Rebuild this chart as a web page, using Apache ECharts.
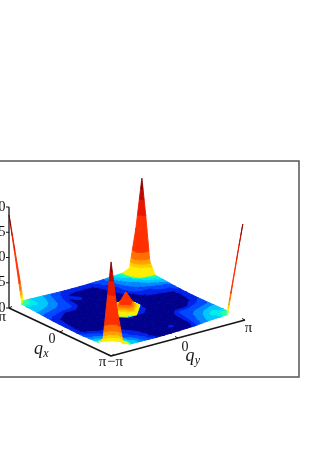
<!DOCTYPE html>
<html><head><meta charset="utf-8">
<style>html,body{margin:0;padding:0;background:#fff}#c{width:334px;height:472px;filter:blur(0.45px)}</style>
<script src="https://cdn.jsdelivr.net/npm/echarts@6/dist/echarts.min.js"></script>
</head><body><div id="c"></div>
<script>
// surface heights: rows run along qx (-pi..pi), columns along qy (-pi..pi)
const heights = [
[18,.38,.3,.28,.18,.12,.08,.07,.07,.08,.11,.15,.28,.35,1.0,8.4,18],
[.38,.36,.3,.28,.16,.1,.06,.055,.055,.055,.1,.13,.25,.35,1.2,10,11],
[.3,.3,.3,.25,.14,.07,.03,.025,.025,.025,.08,.11,.22,.3,.6,1.2,2.5],
[.28,.28,.25,.22,.12,.04,.065,.025,.02,.02,.06,.1,.18,.25,.32,.35,.35],
[.18,.16,.14,.12,.1,.03,.02,.02,.02,.02,.04,.08,.14,.18,.22,.25,.28],
[.12,.1,.07,.04,.03,.02,.02,.02,.02,.02,.02,.03,.08,.1,.13,.15,.18],
[.08,.055,.03,.02,.02,.02,.015,.015,.015,.015,.015,.02,.05,.07,.09,.1,.13],
[.07,.05,.025,.02,.015,.015,.015,.03,1.0,.9,.015,.02,.02,.025,.035,.055,.08],
[.07,.045,.025,.02,.015,.015,.015,1.0,3.6,1.0,.015,.02,.02,.02,.03,.05,.08],
[.07,.045,.025,.02,.015,.015,.015,.35,1.0,.03,.015,.02,.02,.02,.03,.055,.08],
[.07,.04,.02,.015,.015,.015,.015,.015,.015,.015,.015,.015,.015,.02,.035,.06,.1],
[.12,.1,.07,.05,.02,.015,.015,.02,.02,.015,.015,.015,.025,.03,.08,.11,.14],
[.2,.17,.14,.1,.06,.025,.02,.015,.015,.015,.015,.02,.1,.12,.14,.16,.18],
[.33,.3,.25,.18,.1,.06,.025,.02,.015,.015,.02,.035,.12,.22,.25,.28,.28],
[1.5,1.0,.5,.27,.14,.07,.04,.02,.02,.065,.025,.035,.14,.25,.32,.3,.3],
[10,9,1.0,.32,.17,.1,.04,.025,.02,.02,.025,.05,.16,.28,.3,.36,.38],
[18,8,.8,.3,.2,.13,.05,.035,.025,.025,.035,.055,.18,.28,.3,.38,18]
];
// mesh lines are packed tighter towards the zone corners
const meshPos = [0,.7,1.5,2.5,4,5,6,7,8,9,10,11,12,13.5,14.5,15.3,16];
const bandLevels = [0,.05,.1,.17,.24,.3,.34,.38,.44,1.6,2.2,3,4.4,11,14,16,100];
const bandColors = ['#00008c','#0020e8','#0048ff','#0088ff','#00c8ff','#00f0e8','#30ffa0','#a0ff30','#ffee00','#ffcc00','#ffa000','#ff7000','#ff3000','#e81800','#c00800','#8a0000'];
// the central peak is coloured on its own scale: same bands reached at a lower height
const bumpRows = [6,7,8,9], bumpCols = [6,7,8,9], bumpColourGain = 3;
const zTicks = [0,5,10,15,20];
const zTickLabels = ['0','5','10','15','20'];
const qTicks = [-1,0,1];
const qxTickLabels = ['\u2212\u03c0','0','\u03c0'];
const qyTickLabels = ['\u2212\u03c0','0','\u03c0'];
const qxTitle = ['q','x'];
const qyTitle = ['q','y'];

// view set-up: screen positions of the floor and of the z=20 plane
const floor = {L:[18,304],F:[112,351],R:[232,315],B:[141,270]};
const top20 = {L:[8,205],F:[111,252],R:[244,214],B:[142,168]};
const N = heights.length-1, Z_MAX = 20;
function bil(c,u,v,k){return (1-u)*(1-v)*c.L[k]+u*(1-v)*c.F[k]+u*v*c.R[k]+(1-u)*v*c.B[k];}
function project(u,v,z){
  const t=z/Z_MAX;
  return [bil(floor,u,v,0)*(1-t)+bil(top20,u,v,0)*t, bil(floor,u,v,1)*(1-t)+bil(top20,u,v,1)*t];
}
function clip(poly,lvl,keepAbove){
  const out=[];
  for(let a=0;a<poly.length;a++){
    const p=poly[a],q=poly[(a+1)%poly.length];
    const pin=keepAbove?p[2]>=lvl:p[2]<=lvl, qin=keepAbove?q[2]>=lvl:q[2]<=lvl;
    if(pin)out.push(p);
    if(pin!==qin){const t=(lvl-p[2])/(q[2]-p[2]);out.push([p[0]+t*(q[0]-p[0]),p[1]+t*(q[1]-p[1]),lvl]);}
  }
  return out;
}
const cells=[];
for(let i=0;i<N;i++)for(let j=0;j<N;j++)cells.push([i,j]);
cells.sort((a,b)=>(a[0]-a[1])-(b[0]-b[1]));

function renderCell(params,api){
  const i=api.value(0),j=api.value(1);
  const v=(a,b)=>[meshPos[a]/N,meshPos[b]/N,heights[a][b]];
  const a=v(i,j),b=v(i+1,j),c=v(i+1,j+1),d=v(i,j+1);
  const tris=Math.abs(a[2]-c[2])>Math.abs(b[2]-d[2])?[[b,d,a],[b,c,d]]:[[a,b,c],[a,c,d]];
  const gain=(bumpRows.includes(i)&&bumpCols.includes(j))?bumpColourGain:1;
  const children=[];
  tris.forEach(t=>{
    for(let k=0;k<bandColors.length;k++){
      let poly=clip(t,bandLevels[k]/gain,true);
      if(poly.length>2)poly=clip(poly,bandLevels[k+1]/gain,false);
      if(poly.length<3)continue;
      children.push({type:'polygon',shape:{points:poly.map(p=>api.coord(project(p[0],p[1],p[2])))},
        style:{fill:bandColors[k],stroke:bandColors[k],lineWidth:.9}});
    }
  });
  return {type:'group',children};
}

const INK='#151515', SERIF='"Liberation Serif","DejaVu Serif",serif';
function line(api,p,q,w){const A=api.coord(p),B=api.coord(q);
  return {type:'line',shape:{x1:A[0],y1:A[1],x2:B[0],y2:B[1]},style:{stroke:INK,lineWidth:w||1.5}};}
function text(api,s,p,size,style,align){const A=api.coord(p);
  return {type:'text',style:{text:s,x:A[0],y:A[1],fill:INK,align:align||'center',verticalAlign:'middle',
    font:(style||'')+' '+size+'px '+SERIF}};}
function renderAxes(params,api){
  const ch=[];
  const A=api.coord([-5,161]),B=api.coord([299,377]);
  ch.push({type:'rect',shape:{x:A[0],y:A[1],width:B[0]-A[0],height:B[1]-A[1]},style:{fill:'none',stroke:'#555',lineWidth:1.5}});
  const zBase=[9,308], zTop=[9,207], xEnd=[111,356], yEnd=[245,320];
  const lerp=(p,q,t)=>[p[0]+(q[0]-p[0])*t,p[1]+(q[1]-p[1])*t];
  ch.push(line(api,zBase,zTop,1.3),line(api,zBase,xEnd),line(api,xEnd,yEnd));
  zTicks.forEach((z,k)=>{const p=lerp(zBase,zTop,z/Z_MAX);
    ch.push(line(api,[p[0]-3,p[1]],p,1));
    ch.push(text(api,zTickLabels[k],[p[0]-3.5,p[1]],14,'','right'));});
  const xLab=[[-2,317],[52,339],[102.5,362]], yLab=[[115,362],[185,347],[248.5,328]];
  qTicks.forEach((q,k)=>{const t=(q+1)/2;
    const px=lerp(zBase,xEnd,t), py=lerp(xEnd,yEnd,t);
    ch.push(line(api,px,[px[0]+3,px[1]-1.5],1));
    ch.push(line(api,py,[py[0]-3,py[1]-1.5],1));
    ch.push(text(api,qxTickLabels[k],xLab[k],k==1?14:15));
    ch.push(text(api,qyTickLabels[k],yLab[k],k==1?14:15));});
  ch.push(text(api,qxTitle[0],[38.5,349],18,'italic'),text(api,qxTitle[1],[46,353.5],12,'italic'));
  ch.push(text(api,qyTitle[0],[190,356],18,'italic'),text(api,qyTitle[1],[197.5,361],12,'italic'));
  return {type:'group',children:ch};
}

const chart=echarts.init(document.getElementById('c'),null,{renderer:'canvas'});
chart.setOption({
  animation:false,backgroundColor:'#fff',
  grid:{left:0,right:35,top:161,bottom:95,show:false},
  xAxis:{type:'value',min:0,max:299,show:false},
  yAxis:{type:'value',min:161,max:377,inverse:true,show:false},
  tooltip:{show:false},
  series:[
    {type:'custom',coordinateSystem:'cartesian2d',data:[[0,0]],renderItem:renderAxes,silent:true,clip:false,z:2},
    {type:'custom',coordinateSystem:'cartesian2d',data:cells,renderItem:renderCell,silent:true,clip:false,progressive:0,z:3}
  ]
});
</script></body></html>
